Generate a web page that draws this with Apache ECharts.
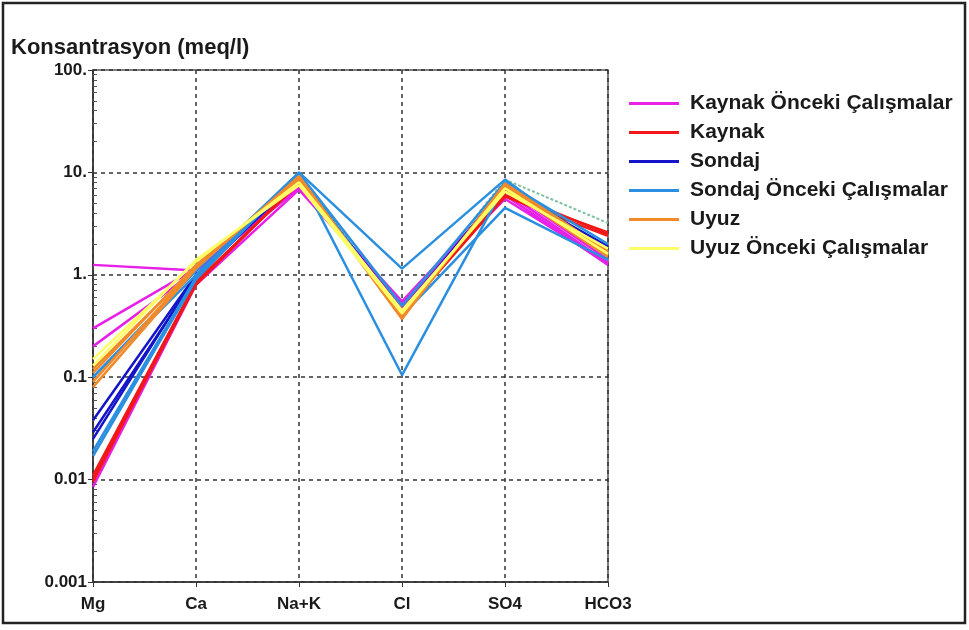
<!DOCTYPE html>
<html>
<head>
<meta charset="utf-8">
<script src="https://cdn.jsdelivr.net/npm/echarts@6/dist/echarts.min.js"></script>
<style>
html,body{margin:0;padding:0;background:#fff;}
#c{width:969px;height:630px;}
</style>
</head>
<body>
<div id="c"></div>
<script>
// Categories (ions)
var categories = ['Mg', 'Ca', 'Na+K', 'Cl', 'SO4', 'HCO3'];

// Y axis ticks
var yTickValues = [0.001, 0.01, 0.1, 1, 10, 100];
var yTickLabels = ['0.001', '0.01', '0.1', '1.', '10.', '100.'];

// Series groups (each row = one sample: Mg, Ca, Na+K, Cl, SO4, HCO3 in meq/l)
var kaynakOnceki = [
  [1.25, 1.10, 7.0, 0.55, 6.5, 1.30],
  [0.30, 1.15, 7.5, 0.50, 6.0, 1.25],
  [0.20, 1.10, 7.2, 0.48, 7.0, 1.40],
  [0.0085, 0.80, 6.8, 0.52, 5.5, 1.30]
];
var kaynak = [
  [0.011, 0.85, 8.0, 0.45, 6.0, 2.60],
  [0.010, 0.80, 8.2, 0.42, 5.8, 2.40],
  [0.0095, 0.85, 7.8, 0.44, 6.5, 2.50]
];
var sondaj = [
  [0.038, 1.00, 8.5, 0.45, 7.0, 1.90],
  [0.029, 0.95, 8.8, 0.42, 7.5, 1.70],
  [0.025, 1.00, 9.0, 0.43, 7.2, 1.80]
];
var sondajOnceki = [
  [0.10, 1.10, 10.0, 1.15, 8.5, 1.60],
  [0.019, 0.95, 9.5, 0.105, 7.5, 1.50],
  [0.017, 0.90, 9.8, 0.50, 8.0, 2.00],
  [0.10, 1.00, 9.5, 0.40, 4.5, 1.40]
];
var uyuz = [
  [0.12, 1.20, 9.0, 0.38, 7.5, 1.60],
  [0.11, 1.25, 8.5, 0.40, 7.0, 1.50],
  [0.09, 1.20, 8.8, 0.37, 7.8, 1.70],
  [0.08, 1.15, 9.2, 0.39, 7.2, 1.55]
];
var uyuzOnceki = [
  [0.15, 1.35, 8.0, 0.45, 6.5, 1.80],
  [0.13, 1.40, 7.5, 0.42, 7.0, 1.60]
];
var other = [
  [0.10, 1.10, 9.5, 0.45, 8.5, 3.20]
];

var groups = [
  {name: 'Kaynak Önceki Çalışmalar', color: '#e620e6', rows: kaynakOnceki},
  {name: 'Kaynak', color: '#f01818', rows: kaynak},
  {name: 'Sondaj', color: '#1414c8', rows: sondaj},
  {name: 'Sondaj Önceki Çalışmalar', color: '#2a8fe0', rows: sondajOnceki},
  {name: 'Uyuz', color: '#f08a2a', rows: uyuz},
  {name: 'Uyuz Önceki Çalışmalar', color: '#ffff66', rows: uyuzOnceki}
];

var minorTicks = [];
for (var e = -3; e < 2; e++) {
  for (var m = 2; m <= 9; m++) minorTicks.push(m * Math.pow(10, e));
}

var series = [];
series.push({
  name: 'diğer', type: 'line', data: other[0], symbol: 'none',
  lineStyle: {color: '#7fc0a0', width: 2, type: [3, 2]}, z: 2, silent: true
});
groups.forEach(function (g) {
  g.rows.forEach(function (r) {
    series.push({
      name: g.name, type: 'line', data: r, symbol: 'none',
      itemStyle: {color: g.color},
      lineStyle: {color: g.color, width: 2.5}, z: 3, silent: true
    });
  });
});

var font = '"Liberation Sans", Arial, sans-serif';
var chart = echarts.init(document.getElementById('c'), null, {renderer: 'canvas'});
chart.setOption({
  animation: false,
  backgroundColor: '#fff',
  title: {
    text: 'Konsantrasyon (meq/l)', left: 6, top: 32,
    textStyle: {fontFamily: font, fontSize: 22, fontWeight: 'bold', color: '#1a1a1a'}
  },
  legend: {
    data: groups.map(function (g) { return g.name; }),
    orient: 'vertical', left: 624, top: 88,
    icon: 'rect', itemWidth: 50, itemHeight: 3, itemGap: 8,
    textStyle: {fontFamily: font, fontSize: 21, fontWeight: 'bold', color: '#1a1a1a', padding: [0, 0, 0, 6]},
    selectedMode: false
  },
  grid: {left: 93, right: 361, top: 70, bottom: 48, show: true, borderColor: '#555', borderWidth: 1.5},
  xAxis: {
    type: 'category', data: categories, boundaryGap: false,
    axisLine: {lineStyle: {color: '#333', width: 1.5}},
    axisTick: {show: true, length: 5, lineStyle: {color: '#333'}},
    axisLabel: {fontFamily: font, fontSize: 17, fontWeight: 'bold', color: '#1a1a1a', margin: 14},
    splitLine: {show: true, lineStyle: {color: '#333', width: 1.5, type: [4, 4]}}
  },
  yAxis: [{
    type: 'log', logBase: 10, min: 0.001, max: 100, splitNumber: 5,
    axisLine: {show: true, lineStyle: {color: '#333', width: 1.5}},
    axisTick: {show: true, length: 5, lineStyle: {color: '#333'}},
    axisLabel: {
      fontFamily: font, fontSize: 17, fontWeight: 'bold', color: '#1a1a1a', margin: 6,
      formatter: function (v) {
        for (var i = 0; i < yTickValues.length; i++) {
          if (Math.abs(Math.log10(v) - Math.log10(yTickValues[i])) < 1e-6) return yTickLabels[i];
        }
        return '';
      }
    },
    splitLine: {show: true, lineStyle: {color: '#333', width: 1.5, type: [4, 4]}}
  }, {
    type: 'log', logBase: 10, min: 0.001, max: 100, position: 'left',
    axisLine: {show: false},
    axisTick: {show: true, inside: true, length: 4, customValues: minorTicks, lineStyle: {color: '#555'}},
    axisLabel: {show: false},
    splitLine: {show: false}
  }],
  graphic: [{
    type: 'rect', shape: {x: 3, y: 3, width: 962, height: 620},
    style: {fill: 'none', stroke: '#222', lineWidth: 2.5}, z: 100, silent: true
  }],
  series: series
});
</script>
</body>
</html>
